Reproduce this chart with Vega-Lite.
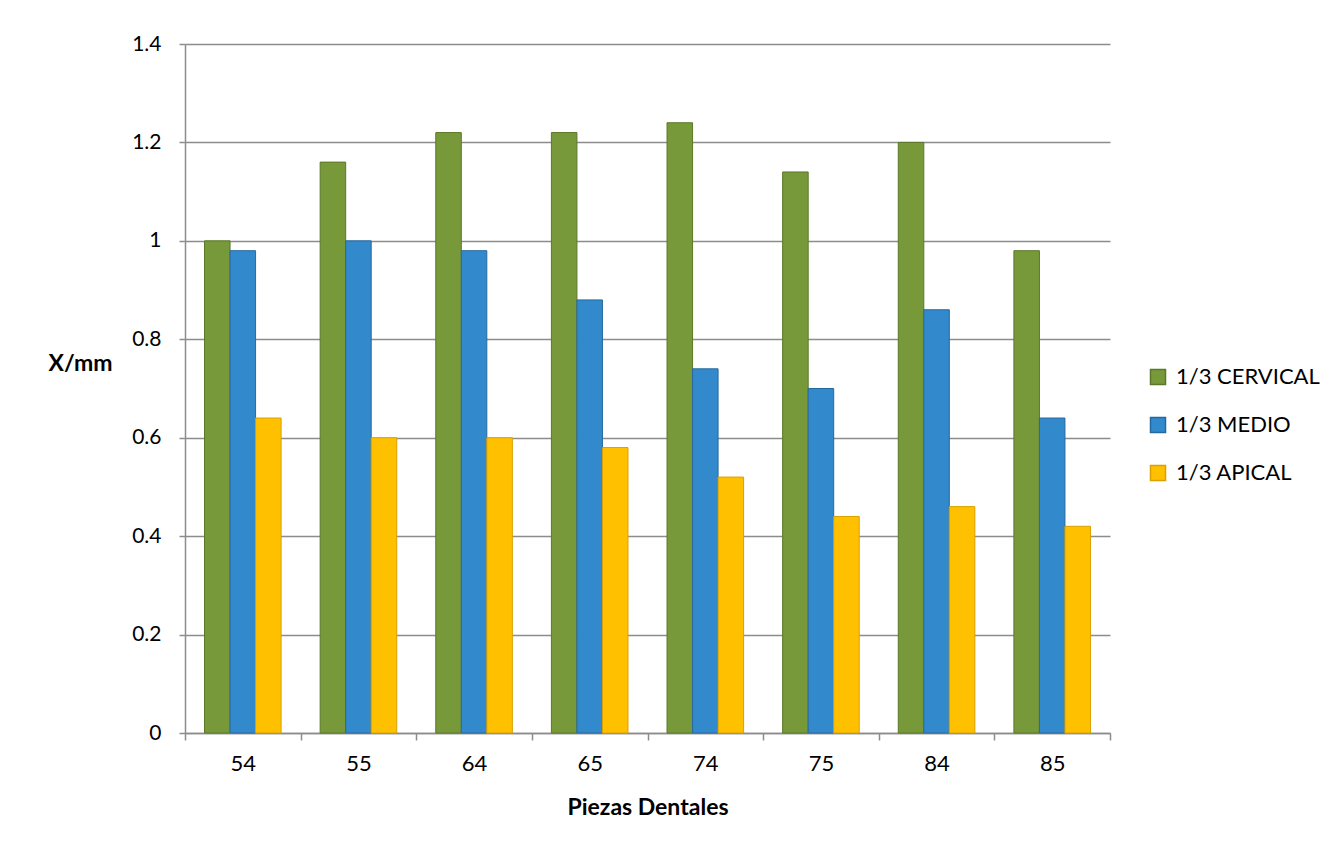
{
  "$schema": "https://vega.github.io/schema/vega-lite/v6.json",
  "width": 925,
  "height": 689,
  "autosize": "none",
  "padding": {"left": 185, "top": 44, "right": 218, "bottom": 108},
  "background": "white",
  "data": {
    "values": [
      {"pieza": "54", "serie": "1/3 CERVICAL", "valor": 1.0},
      {"pieza": "54", "serie": "1/3 MEDIO", "valor": 0.98},
      {"pieza": "54", "serie": "1/3 APICAL", "valor": 0.64},
      {"pieza": "55", "serie": "1/3 CERVICAL", "valor": 1.16},
      {"pieza": "55", "serie": "1/3 MEDIO", "valor": 1.0},
      {"pieza": "55", "serie": "1/3 APICAL", "valor": 0.6},
      {"pieza": "64", "serie": "1/3 CERVICAL", "valor": 1.22},
      {"pieza": "64", "serie": "1/3 MEDIO", "valor": 0.98},
      {"pieza": "64", "serie": "1/3 APICAL", "valor": 0.6},
      {"pieza": "65", "serie": "1/3 CERVICAL", "valor": 1.22},
      {"pieza": "65", "serie": "1/3 MEDIO", "valor": 0.88},
      {"pieza": "65", "serie": "1/3 APICAL", "valor": 0.58},
      {"pieza": "74", "serie": "1/3 CERVICAL", "valor": 1.24},
      {"pieza": "74", "serie": "1/3 MEDIO", "valor": 0.74},
      {"pieza": "74", "serie": "1/3 APICAL", "valor": 0.52},
      {"pieza": "75", "serie": "1/3 CERVICAL", "valor": 1.14},
      {"pieza": "75", "serie": "1/3 MEDIO", "valor": 0.7},
      {"pieza": "75", "serie": "1/3 APICAL", "valor": 0.44},
      {"pieza": "84", "serie": "1/3 CERVICAL", "valor": 1.2},
      {"pieza": "84", "serie": "1/3 MEDIO", "valor": 0.86},
      {"pieza": "84", "serie": "1/3 APICAL", "valor": 0.46},
      {"pieza": "85", "serie": "1/3 CERVICAL", "valor": 0.98},
      {"pieza": "85", "serie": "1/3 MEDIO", "valor": 0.64},
      {"pieza": "85", "serie": "1/3 APICAL", "valor": 0.42}
    ]
  },
  "mark": {"type": "bar", "strokeWidth": 1},
  "encoding": {
    "x": {
      "field": "pieza",
      "type": "nominal",
      "sort": null,
      "scale": {"paddingInner": 0, "paddingOuter": 0},
      "axis": {
        "title": "Piezas Dentales",
        "labelAngle": 0,
        "tickBand": "extent",
        "tickSize": 7,
        "labelPadding": 13,
        "titlePadding": 22
      }
    },
    "xOffset": {
      "field": "serie",
      "type": "nominal",
      "sort": ["1/3 CERVICAL", "1/3 MEDIO", "1/3 APICAL"],
      "scale": {"paddingInner": 0, "paddingOuter": 0.765}
    },
    "y": {
      "field": "valor",
      "type": "quantitative",
      "scale": {"domain": [0, 1.4], "nice": false},
      "axis": {
        "title": "X/mm",
        "values": [0, 0.2, 0.4, 0.6, 0.8, 1, 1.2, 1.4],
        "format": "~g",
        "grid": true,
        "tickSize": 6,
        "labelPadding": 18,
        "titleAngle": 0,
        "titleX": -105,
        "titleY": 319,
        "titleAlign": "center",
        "titleBaseline": "middle"
      }
    },
    "color": {
      "field": "serie",
      "type": "nominal",
      "sort": ["1/3 CERVICAL", "1/3 MEDIO", "1/3 APICAL"],
      "scale": {
        "domain": ["1/3 CERVICAL", "1/3 MEDIO", "1/3 APICAL"],
        "range": ["#77993a", "#3289cb", "#ffc000"]
      },
      "legend": {
        "title": null,
        "orient": "none",
        "legendX": 962,
        "legendY": 322,
        "symbolType": "square",
        "symbolSize": 225,
        "rowPadding": 26,
        "labelOffset": 7,
        "padding": 0
      }
    },
    "stroke": {
      "field": "serie",
      "type": "nominal",
      "scale": {
        "domain": ["1/3 CERVICAL", "1/3 MEDIO", "1/3 APICAL"],
        "range": ["#5a7827", "#26699e", "#d9a000"]
      },
      "legend": null
    }
  },
  "config": {
    "font": "Lato",
    "view": {"stroke": null},
    "axis": {
      "labelFont": "Lato",
      "labelFontSize": 22,
      "labelColor": "#000000",
      "titleFont": "Lato",
      "titleFontSize": 23,
      "titleFontWeight": "bold",
      "titleColor": "#000000",
      "domainColor": "#8c8c8c",
      "domainWidth": 1.5,
      "tickColor": "#8c8c8c",
      "tickWidth": 1.5,
      "gridColor": "#8c8c8c",
      "gridWidth": 1.5
    },
    "axisY": {"labelFontSize": 21},
    "legend": {
      "labelFont": "Lato",
      "labelFontSize": 22,
      "labelColor": "#000000"
    }
  }
}
